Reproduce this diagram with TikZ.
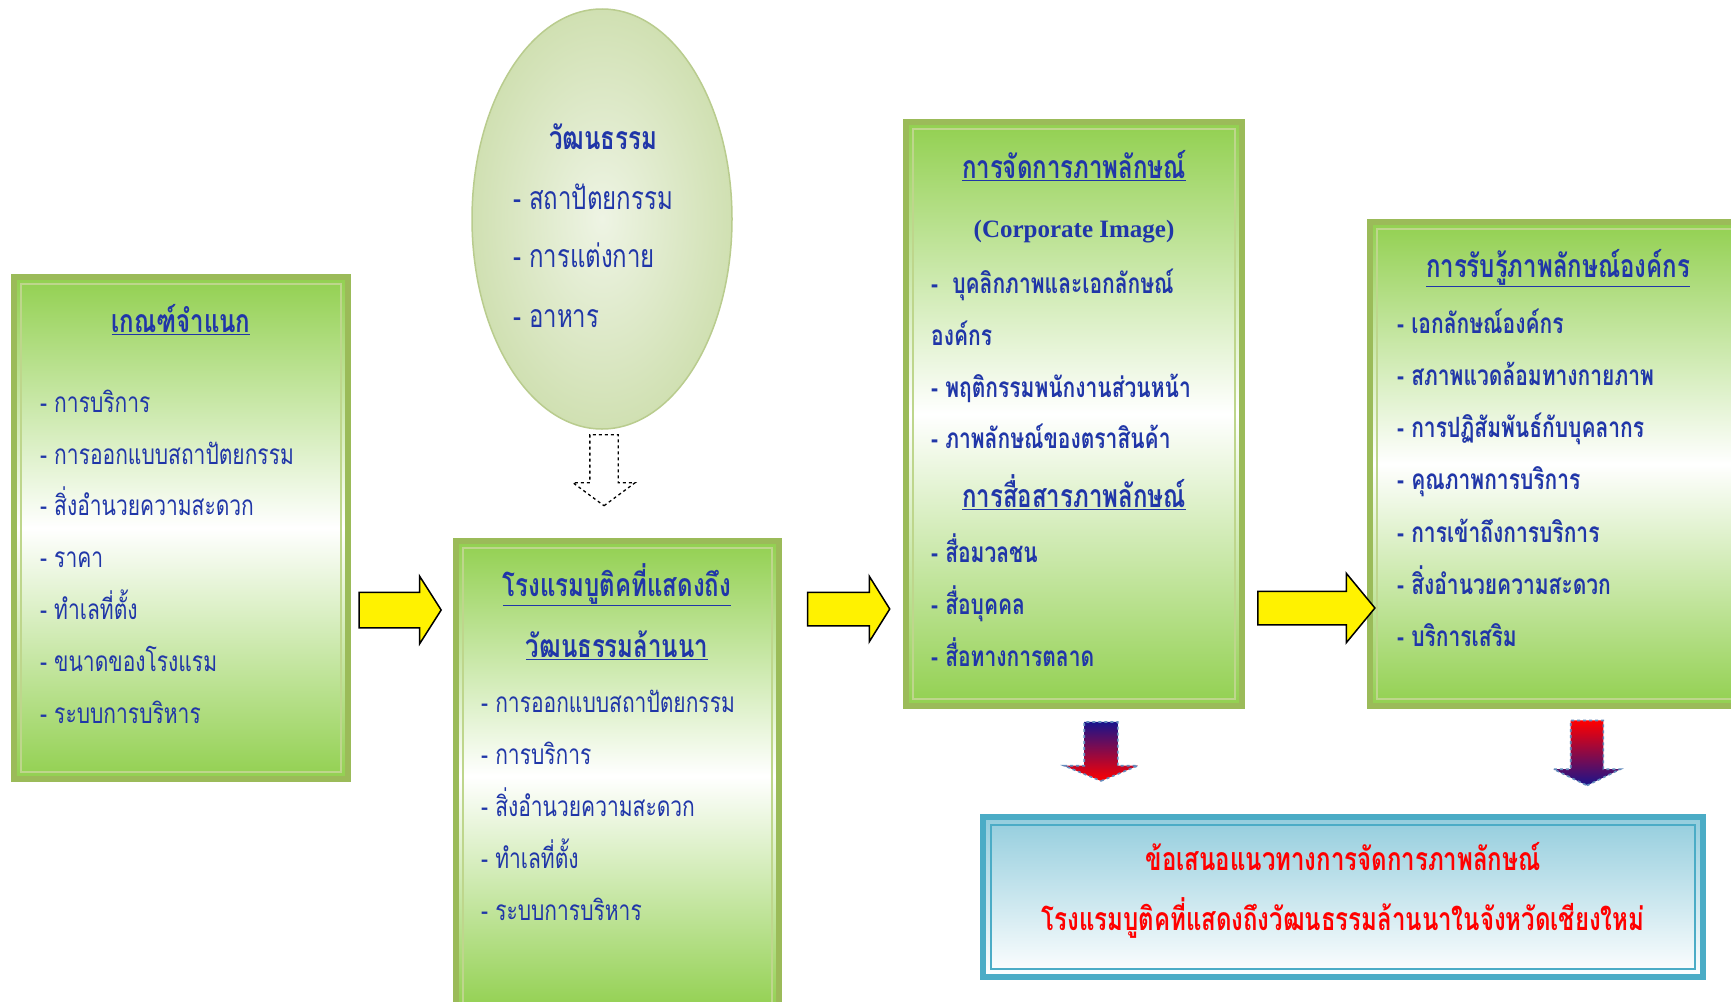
\documentclass[tikz,border=0pt]{standalone}
\usepackage{fontspec}
\newfontfamily\thai[Script=Thai,FakeStretch=0.75]{Loma}
\newfontfamily\latinb{Liberation Serif}
\usetikzlibrary{shapes.arrows,shapes.geometric,positioning}

\definecolor{leafgreen}{RGB}{146,208,80}
\definecolor{olivegreen}{RGB}{155,187,89}
\definecolor{paleolive}{RGB}{190,214,140}
\definecolor{inkblue}{RGB}{32,54,168}
\definecolor{seablue}{RGB}{75,172,198}
\definecolor{palesea}{RGB}{147,205,221}
\definecolor{eggout}{RGB}{208,224,178}
\definecolor{egginn}{RGB}{238,244,228}
\definecolor{eggline}{RGB}{185,204,142}
\definecolor{navyblue}{RGB}{25,20,140}
\definecolor{dashblue}{RGB}{100,140,190}

\tikzset{
  greenbox/.style={rectangle, draw=olivegreen, line width=6pt, top color=leafgreen,
    bottom color=leafgreen, middle color=white, anchor=north west, inner sep=0pt, outer sep=0pt},
  seabox/.style={rectangle, draw=seablue, line width=6pt, top color=palesea,
    bottom color=white, anchor=north west, inner sep=0pt, outer sep=0pt},
  innerline/.style={draw=paleolive, line width=1.2pt},
  title/.style={font=\thai\bfseries\fontsize{32}{36}\selectfont, text=inkblue,
    inner sep=0pt, text height=.75em, text depth=.3em},
  item/.style={font=\thai\fontsize{28}{32}\selectfont, text=inkblue, anchor=west,
    inner sep=0pt, text height=.75em, text depth=.3em},
  bolditem/.style={item, font=\thai\bfseries\fontsize{28}{32}\selectfont},
  eggitem/.style={item, font=\thai\fontsize{32}{36}\selectfont},
  redline/.style={font=\thai\bfseries\fontsize{32}{36}\selectfont, text=red,
    inner sep=0pt, text height=.75em, text depth=.3em},
  yarrow/.style={single arrow, draw=black, line width=1.5pt, fill=yellow},
  darrow/.style={single arrow, shape border rotate=270, draw=dashblue, dashed,
    line width=1.6pt}
}

\begin{document}
\begin{tikzpicture}[x=1pt,y=-1pt]
\clip (0,0) rectangle (1731,1001);
\fill[white] (0,0) rectangle (1731,1001);

% criteria box
\node[greenbox, minimum width=334pt, minimum height=502pt] (crit) at (14,277) {};
\draw[innerline] ([shift={(7,7)}]crit.north west) rectangle ([shift={(-7,-7)}]crit.south east);
\node[title] (crit-t) at (181,330) {\underline{เกณฑ์จำแนก}};
\foreach \t [count=\i] in {การบริการ,การออกแบบสถาปัตยกรรม,สิ่งอำนวยความสะดวก,ราคา,ทำเลที่ตั้ง,ขนาดของโรงแรม,ระบบการบริหาร}
  \node[item] (crit\i) at (40,{410+51.8*(\i-1)}) {- \t};

% culture ellipse
\node[ellipse, draw=eggline, line width=1.5pt, inner color=egginn, outer color=eggout,
  minimum width=260pt, minimum height=420pt, inner sep=0pt] (culture) at (602,219) {};
\node[title] (culture-t) at (603,147) {วัฒนธรรม};
\foreach \t/\y [count=\i] in {สถาปัตยกรรม/207,การแต่งกาย/265,อาหาร/325}
  \node[eggitem] (cult\i) at (513,\y) {- \t};

% hotel box
\node[greenbox, minimum width=323pt, minimum height=470pt] (hotel) at (456,541) {};
\draw[innerline] ([shift={(7,7)}]hotel.north west) rectangle ([shift={(-7,-7)}]hotel.south east);
\node[title] (hotel-t1) at (617,594) {\underline{โรงแรมบูติคที่แสดงถึง}};
\node[title] (hotel-t2) at (617,655) {\underline{วัฒนธรรมล้านนา}};
\foreach \t [count=\i] in {การออกแบบสถาปัตยกรรม,การบริการ,สิ่งอำนวยความสะดวก,ทำเลที่ตั้ง,ระบบการบริหาร}
  \node[item] (hot\i) at (481,{710+52*(\i-1)}) {- \t};

% image management box
\node[greenbox, minimum width=336pt, minimum height=584pt] (image) at (906,122) {};
\draw[innerline] ([shift={(7,7)}]image.north west) rectangle ([shift={(-7,-7)}]image.south east);
\node[title] (image-t) at (1074,176) {\underline{การจัดการภาพลักษณ์}};
\node[font=\latinb\bfseries\fontsize{25}{28}\selectfont, text=inkblue, inner sep=0pt] (image-en) at (1074,232) {(Corporate Image)};
\node[bolditem] (img1) at (931,291) {-\ \ บุคลิกภาพและเอกลักษณ์};
\node[bolditem] (img1b) at (931,343) {องค์กร};
\node[bolditem] (img2) at (931,395) {- พฤติกรรมพนักงานส่วนหน้า};
\node[bolditem] (img3) at (931,446) {- ภาพลักษณ์ของตราสินค้า};
\node[title] (comm-t) at (1074,505) {\underline{การสื่อสารภาพลักษณ์}};
\foreach \t [count=\i] in {สื่อมวลชน,สื่อบุคคล,สื่อทางการตลาด}
  \node[bolditem] (com\i) at (931,{560+52*(\i-1)}) {- \t};

% perception box
\node[greenbox, minimum width=370pt, minimum height=484pt] (percept) at (1370,222) {};
\draw[innerline] ([shift={(7,7)}]percept.north west) rectangle ([shift={(-7,-7)}]percept.south east);
\node[title] (percept-t) at (1558,275) {\underline{การรับรู้ภาพลักษณ์องค์กร}};
\foreach \t [count=\i] in {เอกลักษณ์องค์กร,สภาพแวดล้อมทางกายภาพ,การปฏิสัมพันธ์กับบุคลากร,คุณภาพการบริการ,การเข้าถึงการบริการ,สิ่งอำนวยความสะดวก,บริการเสริม}
  \node[bolditem] (per\i) at (1397,{331+52.2*(\i-1)}) {- \t};

% proposal box
\node[seabox, minimum width=720pt, minimum height=160pt] (propose) at (983,817) {};
\draw[draw=seablue, line width=1.5pt] ([shift={(8,8)}]propose.north west) rectangle ([shift={(-8,-8)}]propose.south east);
\node[redline] (prop1) at (1343,868) {ข้อเสนอแนวทางการจัดการภาพลักษณ์};
\node[redline] (prop2) at (1343,928) {โรงแรมบูติคที่แสดงถึงวัฒนธรรมล้านนาในจังหวัดเชียงใหม่};

% arrows
\node[yarrow, inner sep=17pt, minimum height=82pt, single arrow head extend=16pt,
  single arrow tip angle=115] (arr1) at (394.5,610) {};
\node[yarrow, inner sep=16pt, minimum height=82pt, single arrow head extend=16pt,
  single arrow tip angle=116] (arr2) at (843.5,609) {};
\node[yarrow, inner sep=16pt, minimum height=117pt, single arrow head extend=18pt,
  single arrow tip angle=101] (arr3) at (1309.5,608) {};
\node[single arrow, shape border rotate=270, draw=black, dashed, line width=1.3pt, fill=white,
  inner sep=13.5pt, minimum height=71pt, single arrow head extend=17pt,
  single arrow tip angle=107] (cultarr) at (604,465) {};
\node[darrow, top color=navyblue, bottom color=red, inner sep=16pt, minimum height=59pt,
  single arrow head extend=20pt, single arrow tip angle=135] (down1) at (1101,748) {};
\node[darrow, top color=red, bottom color=navyblue, inner sep=15.5pt, minimum height=65pt,
  single arrow head extend=17pt, single arrow tip angle=128] (down2) at (1587,749) {};
\end{tikzpicture}
\end{document}
